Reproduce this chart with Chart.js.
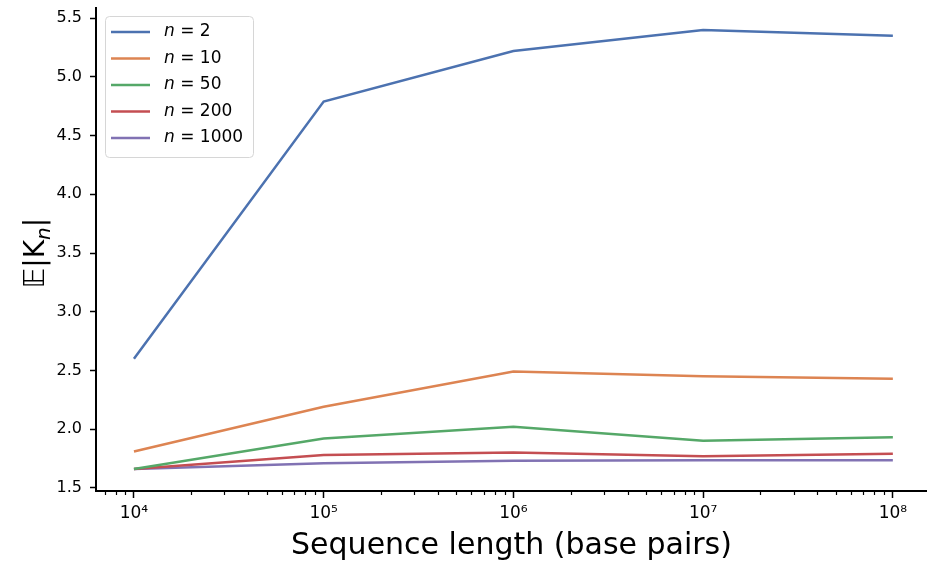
<!DOCTYPE html>
<html>
<head>
<meta charset="utf-8">
<style>
  html, body { margin: 0; padding: 0; background: #fff; }
  #wrap { width: 927px; height: 565px; position: relative; }
</style>
<script src="https://cdn.jsdelivr.net/npm/chart.js@4.4.1/dist/chart.umd.min.js"></script>
</head>
<body>
<div id="wrap"><canvas id="chart"></canvas></div>
<script>
// sequence lengths (base pairs)
const seqLengths = [1e4, 1e5, 1e6, 1e7, 1e8];
const xTickLabels = ["10\u2074", "10\u2075", "10\u2076", "10\u2077", "10\u2078"];
const yTicks = [1.5, 2.0, 2.5, 3.0, 3.5, 4.0, 4.5, 5.0, 5.5];

const seriesNames = ["2", "10", "50", "200", "1000"];
const n2 = [2.60, 4.79, 5.22, 5.40, 5.35];
const n10 = [1.81, 2.19, 2.49, 2.45, 2.43];
const n50 = [1.66, 1.92, 2.02, 1.90, 1.93];
const n200 = [1.66, 1.78, 1.80, 1.77, 1.79];
const n1000 = [1.66, 1.71, 1.73, 1.735, 1.735];

const colors = ["#4c72b0", "#dd8452", "#55a868", "#c44e52", "#8172b3"];
const allSeries = [n2, n10, n50, n200, n1000];

const FONT = "'DejaVu Sans', sans-serif";

const datasets = allSeries.map((vals, i) => ({
  label: seriesNames[i],
  data: vals.map((v, j) => ({ x: seqLengths[j], y: v })),
  borderColor: colors[i],
  backgroundColor: colors[i],
  borderWidth: 2.5,
  pointRadius: 0,
  tension: 0,
  fill: false,
}));

// minor log ticks on the x axis
const minorTicks = {
  id: "minorTicks",
  afterDraw(chart) {
    const sx = chart.scales.x;
    const ctx = chart.ctx;
    ctx.save();
    ctx.strokeStyle = "#000";
    ctx.lineWidth = 1.2;
    for (let k = 3; k <= 8; k++) {
      for (let m = 2; m <= 9; m++) {
        const v = m * Math.pow(10, k);
        if (v < sx.min || v > sx.max) continue;
        const px = Math.round(sx.getPixelForValue(v)) + 0.5;
        ctx.beginPath();
        ctx.moveTo(px, sx.top);
        ctx.lineTo(px, sx.top + 4);
        ctx.stroke();
      }
    }
    ctx.restore();
  },
};

// y axis title E|K_n|
const yTitle = {
  id: "yTitle",
  afterDraw(chart) {
    const ctx = chart.ctx;
    const big = "28px " + FONT;
    const sub = "italic 20px " + FONT;
    ctx.save();
    ctx.fillStyle = "#000";
    ctx.translate(44, 253);
    ctx.rotate(-Math.PI / 2);
    ctx.textBaseline = "alphabetic";
    ctx.font = big;
    const p1 = "\u{1D53C}|K";
    const p3 = "|";
    const w1 = ctx.measureText(p1).width;
    const w3 = ctx.measureText(p3).width;
    ctx.font = sub;
    const w2 = ctx.measureText("n").width;
    const total = w1 + w2 + w3;
    let x = -total / 2;
    ctx.font = big;
    ctx.fillText(p1, x, 0);
    x += w1;
    ctx.font = sub;
    ctx.fillText("n", x, 6);
    x += w2;
    ctx.font = big;
    ctx.fillText(p3, x, 0);
    ctx.restore();
  },
};

// legend with italic n
const mathLegend = {
  id: "mathLegend",
  afterDraw(chart) {
    const ctx = chart.ctx;
    const bx = 105, by = 16, bw = 148, bh = 141;
    ctx.save();
    ctx.beginPath();
    ctx.roundRect(bx + 0.5, by + 0.5, bw, bh, 4);
    ctx.fillStyle = "rgba(255,255,255,0.8)";
    ctx.fill();
    ctx.strokeStyle = "#d6d6d6";
    ctx.lineWidth = 1;
    ctx.stroke();
    chart.data.datasets.forEach((ds, i) => {
      const cy = 32 + i * 26.5;
      ctx.strokeStyle = ds.borderColor;
      ctx.lineWidth = 2.5;
      ctx.beginPath();
      ctx.moveTo(111, cy);
      ctx.lineTo(150, cy);
      ctx.stroke();
      ctx.fillStyle = "#000";
      ctx.textBaseline = "middle";
      ctx.font = "italic 17px " + FONT;
      ctx.fillText("n", 164, cy);
      const wn = ctx.measureText("n").width;
      ctx.font = "17px " + FONT;
      ctx.fillText(" = " + ds.label, 164 + wn, cy);
    });
    ctx.restore();
  },
};

new Chart(document.getElementById("chart"), {
  type: "line",
  data: { datasets },
  options: {
    responsive: true,
    maintainAspectRatio: false,
    animation: false,
    layout: { padding: { top: 8, right: 0, left: 0, bottom: 0 } },
    plugins: {
      legend: { display: false },
      tooltip: { enabled: false },
    },
    scales: {
      x: {
        type: "logarithmic",
        min: Math.pow(10, 3.8),
        max: Math.pow(10, 8.18),
        afterBuildTicks(scale) {
          scale.ticks = seqLengths.map((v) => ({ value: v, major: true }));
        },
        afterFit(scale) {
          scale.height = 74;
          scale.paddingLeft = 0;
          scale.paddingRight = 0;
        },
        ticks: {
          autoSkip: false,
          maxRotation: 0,
          padding: 5,
          color: "#000",
          font: { family: FONT, size: 17 },
          callback(value) {
            const i = seqLengths.indexOf(value);
            return i >= 0 ? xTickLabels[i] : "";
          },
        },
        grid: {
          drawOnChartArea: false,
          drawTicks: true,
          tickLength: 7,
          tickWidth: 1.5,
          tickColor: "#000",
        },
        border: { display: true, color: "#000", width: 2 },
        title: {
          display: true,
          text: "Sequence length (base pairs)",
          color: "#000",
          font: { family: FONT, size: 30 },
          padding: { top: 0, bottom: 1 },
        },
      },
      y: {
        type: "linear",
        min: 1.473,
        max: 5.587,
        afterBuildTicks(scale) {
          scale.ticks = yTicks.map((v) => ({ value: v }));
        },
        afterFit(scale) {
          scale.width = 96;
          scale.paddingTop = 0;
          scale.paddingBottom = 0;
        },
        ticks: {
          padding: 8,
          color: "#000",
          font: { family: FONT, size: 16 },
          callback(value) { return Number(value).toFixed(1); },
        },
        grid: {
          drawOnChartArea: false,
          drawTicks: true,
          tickLength: 6,
          tickWidth: 1.5,
          tickColor: "#000",
        },
        border: { display: true, color: "#000", width: 2 },
      },
    },
  },
  plugins: [minorTicks, yTitle, mathLegend],
});
</script>
</body>
</html>
